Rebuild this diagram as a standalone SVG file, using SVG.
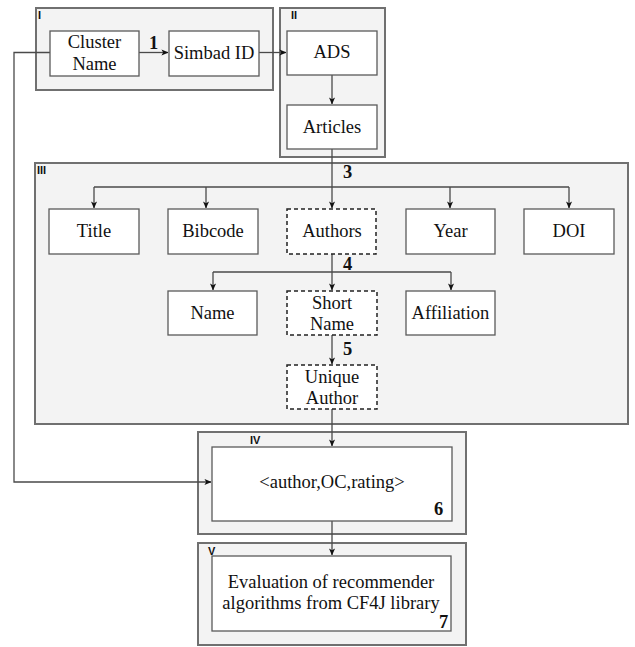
<svg xmlns="http://www.w3.org/2000/svg" width="635" height="647" viewBox="0 0 635 647">
  <style>
    .panel { fill: #f3f3f3; stroke: #707070; stroke-width: 2; }
    .box { fill: #ffffff; stroke: #5a5a5a; stroke-width: 1.3; }
    .dbox { fill: #ffffff; stroke: #222222; stroke-width: 1.5; stroke-dasharray: 4 3; }
    .t { font-family: "Liberation Serif", "Times New Roman", serif; font-size: 18.5px; fill: #111; text-anchor: middle; }
    .num { font-family: "Liberation Serif", "Times New Roman", serif; font-size: 18.5px; font-weight: bold; fill: #111; }
    .tag { font-family: "Liberation Sans", Arial, sans-serif; font-size: 11px; font-weight: bold; fill: #111; }
    .wire { fill: none; stroke: #4a4a4a; stroke-width: 1.3; }
  </style>
  <defs>
    <marker id="arrow" viewBox="0 0 8 8" refX="7.5" refY="4" markerWidth="7" markerHeight="7" markerUnits="userSpaceOnUse" orient="auto">
      <path d="M0,0.5 L8,4 L0,7.5 L2,4 Z" fill="#111"/>
    </marker>
  </defs>

  <!-- stage panels -->
  <g id="panel-I">
    <rect class="panel" x="36" y="8" width="237" height="82"/>
    <text class="tag" x="38" y="19">I</text>
  </g>
  <g id="panel-II">
    <rect class="panel" x="280" y="8" width="105" height="149"/>
    <text class="tag" x="291" y="19">II</text>
  </g>
  <g id="panel-III">
    <rect class="panel" x="35" y="163" width="593" height="261"/>
    <text class="tag" x="37" y="174">III</text>
  </g>
  <g id="panel-IV">
    <rect class="panel" x="198" y="432" width="268" height="102"/>
    <text class="tag" x="250" y="444">IV</text>
  </g>
  <g id="panel-V">
    <rect class="panel" x="198" y="543" width="268" height="102"/>
  </g>

  <!-- connectors -->
  <g id="connectors">
    <path class="wire" d="M50,52.5 H14 V482 H211" marker-end="url(#arrow)"/>
    <path class="wire" d="M139,52.5 H168" marker-end="url(#arrow)"/>
    <path class="wire" d="M259,52.5 H286" marker-end="url(#arrow)"/>
    <path class="wire" d="M332,75 V104" marker-end="url(#arrow)"/>
    <path class="wire" d="M332,149 V208" marker-end="url(#arrow)"/>
    <path class="wire" d="M94,187 H569"/>
    <path class="wire" d="M94,187 V208" marker-end="url(#arrow)"/>
    <path class="wire" d="M206,187 V208" marker-end="url(#arrow)"/>
    <path class="wire" d="M450,187 V208" marker-end="url(#arrow)"/>
    <path class="wire" d="M569,187 V208" marker-end="url(#arrow)"/>
    <path class="wire" d="M332,254 V290" marker-end="url(#arrow)"/>
    <path class="wire" d="M213,272 H451"/>
    <path class="wire" d="M213,272 V290" marker-end="url(#arrow)"/>
    <path class="wire" d="M451,272 V290" marker-end="url(#arrow)"/>
    <path class="wire" d="M332,335 V364" marker-end="url(#arrow)"/>
    <path class="wire" d="M332,409 V446" marker-end="url(#arrow)"/>
    <path class="wire" d="M332,521 V555" marker-end="url(#arrow)"/>
  </g>

  <!-- step numbers -->
  <g id="steps">
    <text class="num" x="149" y="49">1</text>
    <text class="num" x="366" y="74">2</text>
    <text class="num" x="343" y="178">3</text>
    <text class="num" x="343" y="270">4</text>
    <text class="num" x="343" y="355">5</text>
  </g>

  <!-- nodes -->
  <g id="cluster-name">
    <rect class="box" x="50" y="31" width="89" height="45"/>
    <text class="t" x="94.5" y="48">Cluster</text>
    <text class="t" x="94.5" y="70">Name</text>
  </g>
  <g id="simbad-id">
    <rect class="box" x="169" y="31" width="90" height="45"/>
    <text class="t" x="214" y="59">Simbad ID</text>
  </g>
  <g id="ads">
    <rect class="box" x="287" y="31" width="90" height="44"/>
    <text class="t" x="332" y="58">ADS</text>
  </g>
  <g id="articles">
    <rect class="box" x="287" y="105" width="90" height="44"/>
    <text class="t" x="332" y="133">Articles</text>
  </g>
  <g id="title">
    <rect class="box" x="49" y="209" width="90" height="45"/>
    <text class="t" x="94" y="237">Title</text>
  </g>
  <g id="bibcode">
    <rect class="box" x="168" y="209" width="90" height="45"/>
    <text class="t" x="213" y="237">Bibcode</text>
  </g>
  <g id="authors">
    <rect class="dbox" x="287" y="209" width="89" height="45"/>
    <text class="t" x="332" y="237">Authors</text>
  </g>
  <g id="year">
    <rect class="box" x="406" y="209" width="89" height="45"/>
    <text class="t" x="450.5" y="237">Year</text>
  </g>
  <g id="doi">
    <rect class="box" x="524" y="209" width="90" height="45"/>
    <text class="t" x="569" y="237">DOI</text>
  </g>
  <g id="name">
    <rect class="box" x="168" y="291" width="89" height="44"/>
    <text class="t" x="212.5" y="319">Name</text>
  </g>
  <g id="short-name">
    <rect class="dbox" x="287" y="291" width="90" height="44"/>
    <text class="t" x="332" y="309">Short</text>
    <text class="t" x="332" y="330">Name</text>
  </g>
  <g id="affiliation">
    <rect class="box" x="406" y="291" width="89" height="44"/>
    <text class="t" x="450.5" y="319">Affiliation</text>
  </g>
  <g id="unique-author">
    <rect class="dbox" x="287" y="365" width="90" height="44"/>
    <text class="t" x="332" y="383">Unique</text>
    <text class="t" x="332" y="404">Author</text>
  </g>
  <g id="rating-tuple">
    <rect class="box" x="212" y="447" width="240" height="74"/>
    <text class="t" x="332" y="488">&lt;author,OC,rating&gt;</text>
    <text class="num" x="434" y="515">6</text>
  </g>
  <g id="evaluation">
    <rect class="box" x="212" y="556" width="239" height="75"/>
    <text class="t" x="331" y="588">Evaluation of recommender</text>
    <text class="t" x="331" y="609">algorithms from CF4J library</text>
    <text class="num" x="439" y="628">7</text>
    <text class="tag" x="208" y="555">V</text>
  </g>
</svg>
